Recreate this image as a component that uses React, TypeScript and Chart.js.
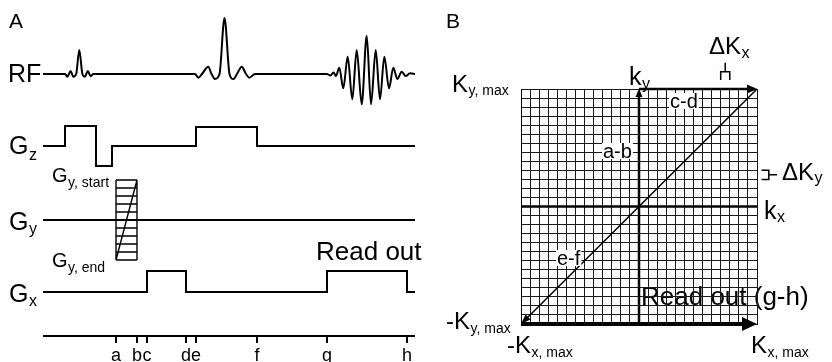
import React, { useEffect, useRef } from 'react';
import { Chart, registerables } from 'chart.js';

Chart.register(...registerables);

const W = 832;
const H = 362;
const FONT = '"Liberation Sans", Arial, Helvetica, sans-serif';

// ---------------- Panel A : pulse sequence ----------------
const TIME_LABELS = ['a', 'b', 'c', 'd', 'e', 'f', 'g', 'h'];
const TIME_VALUES = [116, 137, 147, 186, 196, 257, 327, 407];
const SEQ_START = 43;
const SEQ_END = 415;

const ROW_NAMES = ['RF', 'Gz', 'Gy', 'Gx'];
const ROW_BASELINES = [74, 146, 220, 292];
const TIME_AXIS_LEVEL = 336;
const TICK_DEPTH = 7;

// RF waveform: [time, amplitude]
const RF_EXCITATION = [
  [65, 0], [67.3, -2.7], [70.7, 3], [73.3, -2.7], [76.2, 0], [79.3, 24], [82.4, 0],
  [85, -2.7], [87.7, 3], [90.7, -2.2], [93.3, 0],
];
const RF_REFOCUS = [
  [195, 0], [198.3, -3.7], [202, 0], [208.3, 7.3], [211.5, 0], [215, -5], [219.5, 0],
  [224.5, 56], [229.5, 0], [233.3, -5], [237, 0], [241.7, 7.3], [246, 0], [249.3, -3.7], [255, 0],
];
const RF_ECHO = [
  [327, 0], [330.5, -1.5], [333.5, 1.5], [336, -2], [339.3, 6.3], [343.3, -14.3], [347.7, 17.3],
  [352.3, -25.3], [356.7, 24], [361.7, -30.3], [366.7, 38.3], [371, -30.3], [375.7, 24],
  [380, -25.3], [384.3, 17.3], [389, -14.3], [393.3, 6.3], [397.3, -5], [401.7, 2.3],
  [405.7, -2], [410, 0.7], [415, 0],
];

// gradient lobes: [start, end, amplitude]
const GZ_PULSES = [
  [65, 96, 20],
  [96, 112, -20],
  [TIME_VALUES[4], TIME_VALUES[5], 19],
];
const GX_PULSES = [
  [TIME_VALUES[2], TIME_VALUES[3], 21],
  [TIME_VALUES[6], TIME_VALUES[7], 21],
];
const GY_STEPS = [40, 32, 24, 16, 8, 0, -8, -16, -24, -32, -40];

// ---------------- Panel B : k-space ----------------
const K_MIN = -13;
const K_MAX = 13;
const K_AXIS_X = [[K_MIN, 0], [K_MAX, 0]];
const K_PATH_AB = [[0, K_MIN], [0, K_MAX]];
const K_PATH_CD = [[0, K_MAX], [K_MAX, K_MAX]];
const K_PATH_EF = [[K_MAX, K_MAX], [K_MIN, K_MIN]];
const K_PATH_GH = [[K_MIN, K_MIN], [K_MAX, K_MIN]];
const DKX_BRACKET = [[9, 14], [9, 14.9], [10, 14.9], [10, 14], null, [9.5, 14.9], [9.5, 15.9]];
const DKY_BRACKET = [[13.5, 4], [14.3, 4], [14.3, 3], [13.5, 3], null, [14.3, 3.5], [15.2, 3.5]];

type P = { x: number; y: number | null };

const toPts = (arr: (number[] | null)[]): P[] =>
  arr.map((p) => (p ? { x: p[0], y: p[1] } : { x: 0, y: null }));

function pulseTrain(pulses: number[][], base: number): P[] {
  const pts: P[] = [{ x: SEQ_START, y: base }];
  for (const [t0, t1, amp] of pulses) {
    pts.push({ x: t0, y: base }, { x: t0, y: base - amp }, { x: t1, y: base - amp }, { x: t1, y: base });
  }
  pts.push({ x: SEQ_END, y: base });
  return pts;
}

function drawSub(ctx: CanvasRenderingContext2D, x: number, y: number, main: string, sub: string,
  mainPx: number, subPx: number, subDy: number) {
  ctx.font = `${mainPx}px ${FONT}`;
  ctx.fillText(main, x, y);
  if (!sub) return;
  const w = ctx.measureText(main).width;
  ctx.font = `${subPx}px ${FONT}`;
  ctx.fillText(sub, x + w + 0.5, y + subDy);
}

const textA = {
  id: 'textA',
  afterDraw(chart: any) {
    const ctx: CanvasRenderingContext2D = chart.ctx;
    ctx.save();
    ctx.fillStyle = '#000';
    ctx.textBaseline = 'alphabetic';
    ctx.textAlign = 'left';
    drawSub(ctx, 9, 28, 'A', '', 21, 0, 0);
    drawSub(ctx, 8, 82, ROW_NAMES[0], '', 25, 0, 0);
    drawSub(ctx, 9, 153.5, 'G', 'z', 25, 16, 6.5);
    drawSub(ctx, 9, 230, 'G', 'y', 25, 16, 3.5);
    drawSub(ctx, 9, 301.5, 'G', 'x', 25, 16, 4);
    drawSub(ctx, 52, 182, 'G', 'y, start', 20, 14, 5);
    drawSub(ctx, 52, 267, 'G', 'y, end', 20, 14, 5);
    drawSub(ctx, 316, 260, 'Read out', '', 26, 0, 0);
    ctx.textAlign = 'center';
    ctx.font = `18px ${FONT}`;
    const xs = chart.scales.x;
    TIME_LABELS.forEach((l, i) => ctx.fillText(l, xs.getPixelForValue(TIME_VALUES[i]), 361));
    ctx.restore();
  },
};

const textB = {
  id: 'textB',
  beforeDraw(chart: any) {
    const ctx: CanvasRenderingContext2D = chart.ctx;
    ctx.save();
    ctx.fillStyle = '#000';
    ctx.textAlign = 'left';
    ctx.textBaseline = 'alphabetic';
    drawSub(ctx, 446, 28, 'B', '', 21, 0, 0);
    drawSub(ctx, 452, 92, 'K', 'y, max', 24, 14, 3);
    drawSub(ctx, 629, 85, 'k', 'y', 25, 16, 4);
    drawSub(ctx, 709, 54, 'ΔK', 'x', 24, 16, 4);
    drawSub(ctx, 764, 219, 'k', 'x', 25, 16, 3);
    drawSub(ctx, 782, 180, 'ΔK', 'y', 24, 16, 3);
    drawSub(ctx, 446, 329, '-K', 'y, max', 24, 14, 4);
    drawSub(ctx, 507, 353, '-K', 'x, max', 24, 14, 4);
    drawSub(ctx, 751, 353, 'K', 'x, max', 24, 14, 4);
    drawSub(ctx, 641, 305, 'Read out (g-h)', '', 26, 0, 0);
    ctx.restore();
  },
  afterDraw(chart: any) {
    const ctx: CanvasRenderingContext2D = chart.ctx;
    ctx.save();
    ctx.textAlign = 'left';
    ctx.textBaseline = 'alphabetic';
    ctx.font = `20px ${FONT}`;
    const items: [string, number, number][] = [['a-b', 603, 158], ['c-d', 670, 108], ['e-f', 557, 265]];
    for (const [t, x, y] of items) {
      const w = ctx.measureText(t).width;
      ctx.fillStyle = '#fff';
      ctx.fillRect(x - 1, y - 15, w + 2, 16);
      ctx.fillStyle = '#000';
      ctx.fillText(t, x, y);
    }
    ctx.restore();
  },
};

const arrowHeads = {
  id: 'arrowHeads',
  afterDatasetsDraw(chart: any) {
    const ctx: CanvasRenderingContext2D = chart.ctx;
    chart.data.datasets.forEach((ds: any, i: number) => {
      if (!ds.arrowLength) return;
      const pts = chart.getDatasetMeta(i).data;
      const p1 = pts[pts.length - 1];
      const p0 = pts[pts.length - 2];
      const a = Math.atan2(p1.y - p0.y, p1.x - p0.x);
      const L = ds.arrowLength;
      const hw = ds.arrowWidth / 2;
      const c = Math.cos(a), s = Math.sin(a);
      ctx.save();
      ctx.fillStyle = '#000';
      ctx.beginPath();
      ctx.moveTo(p1.x, p1.y);
      ctx.lineTo(p1.x - L * c + hw * s, p1.y - L * s - hw * c);
      ctx.lineTo(p1.x - L * c - hw * s, p1.y - L * s + hw * c);
      ctx.closePath();
      ctx.fill();
      ctx.restore();
    });
  },
};

export default function App() {
  const refA = useRef<HTMLCanvasElement>(null);
  const refB = useRef<HTMLCanvasElement>(null);

  useEffect(() => {
    const rfBase = ROW_BASELINES[0];
    const rfPts: P[] = [{ x: SEQ_START, y: rfBase }].concat(
      [...RF_EXCITATION, ...RF_REFOCUS, ...RF_ECHO].map(([t, a]) => ({ x: t, y: rfBase - a })),
    );
    const gyBase = ROW_BASELINES[2];
    const ta = TIME_VALUES[0], tb = TIME_VALUES[1];
    const gTop = gyBase - GY_STEPS[0];
    const gBot = gyBase - GY_STEPS[GY_STEPS.length - 1];
    const gyTable: P[] = [];
    GY_STEPS.forEach((lv) => {
      gyTable.push({ x: ta, y: gyBase - lv }, { x: tb, y: gyBase - lv }, { x: ta, y: null });
    });
    gyTable.push({ x: ta, y: gTop }, { x: ta, y: gBot }, { x: ta, y: null });
    gyTable.push({ x: tb, y: gTop }, { x: tb, y: gBot }, { x: ta, y: null });
    gyTable.push({ x: ta, y: gBot }, { x: tb, y: gTop });

    const timeAxis: P[] = [{ x: SEQ_START, y: TIME_AXIS_LEVEL }, { x: SEQ_END, y: TIME_AXIS_LEVEL }];
    TIME_VALUES.forEach((t) => {
      timeAxis.push({ x: t, y: null }, { x: t, y: TIME_AXIS_LEVEL }, { x: t, y: TIME_AXIS_LEVEL + TICK_DEPTH });
    });

    const lineDs = (data: P[], width: number, extra: any = {}) => ({
      data, borderColor: '#000', borderWidth: width, pointRadius: 0, tension: 0,
      fill: false, spanGaps: false, ...extra,
    });

    const chartA = new Chart(refA.current as HTMLCanvasElement, {
      type: 'line',
      data: {
        datasets: [
          lineDs(rfPts, 2, { cubicInterpolationMode: 'monotone' }),
          lineDs(pulseTrain(GZ_PULSES, ROW_BASELINES[1]), 2),
          lineDs(pulseTrain([], gyBase), 2),
          lineDs(gyTable, 1.4),
          lineDs(pulseTrain(GX_PULSES, ROW_BASELINES[3]), 2),
          lineDs(timeAxis, 2),
        ],
      } as any,
      options: {
        animation: false,
        responsive: false,
        events: [],
        layout: { padding: 0 },
        plugins: { legend: { display: false }, tooltip: { enabled: false } },
        scales: {
          x: { type: 'linear', min: 0, max: W, display: false },
          y: { type: 'linear', min: 0, max: H, reverse: true, display: false },
        },
      } as any,
      plugins: [textA],
    });

    const gridAxis = {
      type: 'linear', min: K_MIN, max: K_MAX,
      ticks: { display: false, stepSize: 1 },
      grid: { color: '#1a1a1a', lineWidth: 1, drawTicks: false },
      border: { display: true, color: '#000', width: 1 },
    };

    const chartB = new Chart(refB.current as HTMLCanvasElement, {
      type: 'line',
      data: {
        datasets: [
          lineDs(toPts(K_AXIS_X), 2.5, { clip: 3 }),
          lineDs(toPts(K_PATH_AB), 2.5, { clip: { left: 3, right: 3, top: -2.5, bottom: 3 }, arrowLength: 8, arrowWidth: 7 }),
          lineDs(toPts(K_PATH_CD), 2.5, { clip: { left: 3, right: -2.5, top: 3, bottom: 3 }, arrowLength: 10, arrowWidth: 9 }),
          lineDs(toPts(K_PATH_EF), 1.5, { clip: { left: -2, right: 3, top: 3, bottom: -2 }, arrowLength: 10, arrowWidth: 7 }),
          lineDs(toPts(K_PATH_GH), 4, { clip: { left: 3, right: -4.5, top: 4, bottom: 4 }, arrowLength: 15, arrowWidth: 14 }),
          lineDs(toPts(DKX_BRACKET), 1.5, { clip: false }),
          lineDs(toPts(DKY_BRACKET), 1.5, { clip: false }),
        ],
      } as any,
      options: {
        animation: false,
        responsive: false,
        events: [],
        layout: { padding: { left: 521, top: 89, right: W - 757, bottom: H - 324 } },
        plugins: { legend: { display: false }, tooltip: { enabled: false } },
        scales: { x: gridAxis, y: gridAxis },
      } as any,
      plugins: [textB, arrowHeads],
    });

    return () => {
      chartA.destroy();
      chartB.destroy();
    };
  }, []);

  const cs: React.CSSProperties = { position: 'absolute', left: 0, top: 0, width: W, height: H };
  return (
    <div style={{ position: 'absolute', left: 0, top: 0, width: W, height: H, background: '#fff' }}>
      <canvas ref={refA} width={W} height={H} style={cs} />
      <canvas ref={refB} width={W} height={H} style={cs} />
    </div>
  );
}
